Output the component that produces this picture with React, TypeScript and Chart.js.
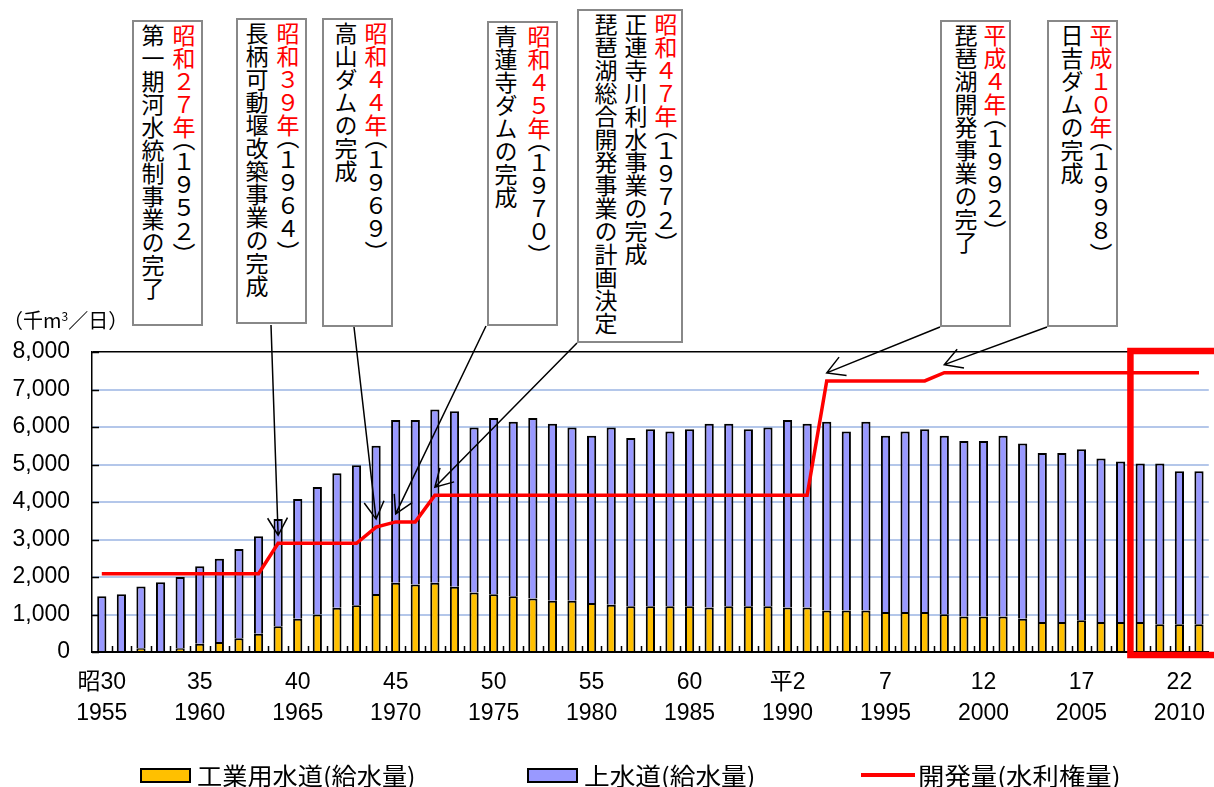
import React, { useEffect, useRef } from 'react';
import { Chart, registerables } from 'chart.js';

Chart.register(...registerables);

// ---------------- data ----------------
const YEARS = [
  '1955', '1956', '1957', '1958', '1959', '1960', '1961', '1962', '1963', '1964',
  '1965', '1966', '1967', '1968', '1969', '1970', '1971', '1972', '1973', '1974',
  '1975', '1976', '1977', '1978', '1979', '1980', '1981', '1982', '1983', '1984',
  '1985', '1986', '1987', '1988', '1989', '1990', '1991', '1992', '1993', '1994',
  '1995', '1996', '1997', '1998', '1999', '2000', '2001', '2002', '2003', '2004',
  '2005', '2006', '2007', '2008', '2009', '2010', '2011',
];

// 工業用水道(給水量) 千m3/日
const INDUSTRIAL = [
  0, 0, 100, 0, 100, 220, 270, 370, 490, 690,
  890, 1000, 1180, 1250, 1550, 1850, 1800, 1850, 1740, 1590,
  1540, 1490, 1430, 1370, 1370, 1310, 1260, 1220, 1220, 1220,
  1220, 1190, 1220, 1220, 1220, 1190, 1190, 1110, 1110, 1110,
  1070, 1070, 1070, 1010, 950, 950, 950, 890, 800, 800,
  850, 800, 800, 800, 740, 740, 740,
];

// 上水道(給水量) 千m3/日
const DOMESTIC = [
  1490, 1540, 1650, 1860, 1900, 2070, 2220, 2380, 2600, 2860,
  3190, 3400, 3590, 3730, 3950, 4340, 4390, 4620, 4680, 4400,
  4700, 4650, 4810, 4720, 4620, 4460, 4730, 4490, 4720, 4660,
  4720, 4900, 4870, 4720, 4770, 5000, 4900, 5030, 4770, 5030,
  4700, 4810, 4870, 4760, 4680, 4680, 4820, 4670, 4510, 4510,
  4560, 4360, 4280, 4230, 4290, 4080, 4080,
];

// 開発量(水利権量) 千m3/日
const DEVELOPMENT = [
  2090, 2090, 2090, 2090, 2090, 2090, 2090, 2090, 2090, 2900,
  2900, 2900, 2900, 2900, 3330, 3470, 3470, 4180, 4180, 4180,
  4180, 4180, 4180, 4180, 4180, 4180, 4180, 4180, 4180, 4180,
  4180, 4180, 4180, 4180, 4180, 4180, 4180, 7230, 7230, 7230,
  7230, 7230, 7230, 7450, 7450, 7450, 7450, 7450, 7450, 7450,
  7450, 7450, 7450, 7450, 7450, 7450, 7450,
];

const TICK_ERA = ['昭30', '35', '40', '45', '50', '55', '60', '平2', '7', '12', '17', '22'];
const TICK_YEAR = ['1955', '1960', '1965', '1970', '1975', '1980', '1985', '1990', '1995', '2000', '2005', '2010'];

const Y_MIN = 0;
const Y_MAX = 8000;
const Y_STEP = 1000;

const HIGHLIGHT_FROM = '2008';

const SERIES_LABELS = ['工業用水道(給水量)', '上水道(給水量)', '開発量(水利権量)'];
const UNIT_LABEL = ['（千m', '3', '／日）'];

// annotation notes: text + the year the arrow points at
const NOTE_ERA = ['昭和２７年', '昭和３９年', '昭和４４年', '昭和４５年', '昭和４７年', '平成４年', '平成１０年'];
const NOTE_WEST = ['１９５２', '１９６４', '１９６９', '１９７０', '１９７２', '１９９２', '１９９８'];
const NOTE_TEXT = [
  ['第一期河水統制事業の完了'],
  ['長柄可動堰改築事業の完成'],
  ['高山ダムの完成'],
  ['青蓮寺ダムの完成'],
  ['正連寺川利水事業の完成', '琵琶湖総合開発事業の計画決定'],
  ['琵琶湖開発事業の完了'],
  ['日吉ダムの完成'],
];
const NOTE_TARGET = [null, '1964', '1969', '1970', '1972', '1992', '1998'];

// ---------------- layout (positions / styles) ----------------
const W = 1214;
const H = 787;
const BOX_LAYOUT = [
  { left: 132, top: 20, width: 71, height: 306, lh: 31, pr: 2, ax: 0, ay: 0 },
  { left: 236, top: 18, width: 71, height: 306, lh: 31, pr: 2, ax: 271, ay: 325 },
  { left: 322, top: 18, width: 71, height: 309, lh: 30, pr: 0, ax: 354, ay: 327 },
  { left: 487, top: 21, width: 71, height: 305, lh: 33, pr: 1, ax: 486, ay: 326 },
  { left: 577, top: 9, width: 106, height: 334, lh: 30, pr: 0, ax: 577, ay: 343 },
  { left: 940, top: 20, width: 71, height: 307, lh: 29, pr: 0, ax: 940, ay: 327 },
  { left: 1047, top: 20, width: 71, height: 307, lh: 29, pr: 1, ax: 1047, ay: 327 },
];
const LEGEND_LAYOUT = [
  { sw: 140, swW: 51, tx: 197, kind: 'box', sx: 1.05 },
  { sw: 527, swW: 51, tx: 584, kind: 'box', sx: 1.07 },
  { sw: 861, swW: 54, tx: 918, kind: 'line', sx: 1.1 },
];

const TICK_FONT = "'Liberation Sans', 'Noto Sans CJK JP', sans-serif";
const JP_FONT = "'Noto Sans CJK JP', sans-serif";
const C_YELLOW = '#FFC000';
const C_BLUE = '#9999FF';
const C_RED = '#FF0000';
const C_GRID = '#b4c7ea';
const LEGEND_COLORS = [C_YELLOW, C_BLUE, C_RED];

const overlayPlugin = {
  id: 'overlay',
  afterDraw(chart: any) {
    const { ctx, chartArea, scales } = chart;
    const xs = scales.x;
    const ys = scales.y;
    const n = YEARS.length;
    const cw = (chartArea.right - chartArea.left) / n;
    ctx.save();

    // inner tick marks
    ctx.beginPath();
    ctx.strokeStyle = '#000';
    ctx.lineWidth = 1.5;
    for (let v = Y_MIN; v <= Y_MAX; v += Y_STEP) {
      const py = Math.round(ys.getPixelForValue(v)) + 0.5;
      ctx.moveTo(chartArea.left, py);
      ctx.lineTo(chartArea.left + 7, py);
    }
    for (let i = 1; i < n; i++) {
      const px = Math.round(xs.getPixelForValue(i) - cw / 2) + 0.5;
      ctx.moveTo(px, chartArea.bottom);
      ctx.lineTo(px, chartArea.bottom - 6);
    }
    ctx.stroke();

    // highlight rectangle
    const hi = YEARS.indexOf(HIGHLIGHT_FROM);
    const hx = xs.getPixelForValue(hi) - cw / 2;
    const hy1 = ys.getPixelForValue(Y_MAX) - 1;
    const hy2 = ys.getPixelForValue(Y_MIN) + 3;
    ctx.strokeStyle = C_RED;
    ctx.lineWidth = 6.5;
    ctx.strokeRect(hx, hy1, chart.width + 40 - hx, hy2 - hy1);

    // arrows
    ctx.strokeStyle = '#000';
    ctx.lineWidth = 1.5;
    NOTE_TARGET.forEach((yr, k) => {
      if (!yr) return;
      const idx = YEARS.indexOf(yr);
      const tx = xs.getPixelForValue(idx);
      const ty = ys.getPixelForValue(DEVELOPMENT[idx]) - 8;
      const sx = BOX_LAYOUT[k].ax;
      const sy = BOX_LAYOUT[k].ay;
      const ang = Math.atan2(ty - sy, tx - sx);
      const len = 20;
      const spread = 0.52;
      ctx.beginPath();
      ctx.moveTo(sx, sy);
      ctx.lineTo(tx, ty);
      ctx.moveTo(tx - len * Math.cos(ang - spread), ty - len * Math.sin(ang - spread));
      ctx.lineTo(tx, ty);
      ctx.lineTo(tx - len * Math.cos(ang + spread), ty - len * Math.sin(ang + spread));
      ctx.stroke();
    });
    ctx.restore();
  },
};

export default function App() {
  const canvasRef = useRef<HTMLCanvasElement | null>(null);

  useEffect(() => {
    if (!canvasRef.current) return;
    const chart = new Chart(canvasRef.current, {
      type: 'bar',
      data: {
        labels: YEARS,
        datasets: [
          {
            type: 'line',
            label: SERIES_LABELS[2],
            data: DEVELOPMENT,
            borderColor: C_RED,
            backgroundColor: C_RED,
            borderWidth: 3.5,
            pointRadius: 0,
            tension: 0,
            stack: 'dev',
            order: 0,
          } as any,
          {
            type: 'bar',
            label: SERIES_LABELS[0],
            data: INDUSTRIAL,
            backgroundColor: C_YELLOW,
            borderColor: '#000',
            borderWidth: 2,
            stack: 'water',
            order: 1,
            categoryPercentage: 1,
            barPercentage: 0.47,
          },
          {
            type: 'bar',
            label: SERIES_LABELS[1],
            data: DOMESTIC,
            backgroundColor: C_BLUE,
            borderColor: '#000',
            borderWidth: 2,
            stack: 'water',
            order: 1,
            categoryPercentage: 1,
            barPercentage: 0.47,
          },
        ],
      },
      options: {
        responsive: false,
        animation: false,
        devicePixelRatio: 1,
        layout: { padding: { left: 0, right: 1, top: 352, bottom: 55 } },
        plugins: {
          legend: { display: false },
          tooltip: { enabled: false },
        },
        scales: {
          x: {
            stacked: true,
            grid: { display: false, drawTicks: false },
            border: { display: true, color: '#000', width: 2 },
            ticks: {
              autoSkip: false,
              maxRotation: 0,
              minRotation: 0,
              padding: 15,
              color: '#000',
              font: { family: TICK_FONT, size: 23, lineHeight: 31 / 23 },
              callback: (_v: any, i: number) =>
                i % 5 === 0 && i / 5 < TICK_YEAR.length ? [TICK_ERA[i / 5], TICK_YEAR[i / 5]] : '',
            },
            afterFit: (s: any) => {
              s.height = 80;
            },
          },
          y: {
            stacked: true,
            min: Y_MIN,
            max: Y_MAX,
            ticks: {
              stepSize: Y_STEP,
              padding: 22,
              color: '#000',
              font: { family: TICK_FONT, size: 23 },
              callback: (v: any) => Number(v).toLocaleString('en-US'),
            },
            grid: {
              drawTicks: false,
              color: (c: any) =>
                c.tick && c.tick.value === Y_MAX ? '#000' : c.tick && c.tick.value === Y_MIN ? 'rgba(0,0,0,0)' : C_GRID,
              lineWidth: (c: any) => (c.tick && c.tick.value === Y_MAX ? 1.5 : 2),
            },
            border: { display: true, color: '#000', width: 1.5 },
            afterFit: (s: any) => {
              s.width = 92;
            },
          },
        },
      },
      plugins: [overlayPlugin],
    } as any);
    return () => chart.destroy();
  }, []);

  const halfParen: React.CSSProperties = { fontFeatureSettings: '"vhal" 1' };

  return (
    <div
      style={{
        position: 'fixed',
        left: 0,
        top: 0,
        width: W,
        height: H,
        overflow: 'hidden',
        background: '#fff',
      }}
    >
      <canvas
        ref={canvasRef}
        width={W}
        height={H}
        style={{ position: 'absolute', left: 0, top: 0, width: W, height: H }}
      />

      {NOTE_ERA.map((era, k) => {
        const b = BOX_LAYOUT[k];
        return (
          <div
            key={k}
            style={{
              position: 'absolute',
              left: b.left,
              top: b.top,
              width: b.width,
              height: b.height,
              boxSizing: 'border-box',
              border: '2px solid #888',
              background: '#fff',
              writingMode: 'vertical-rl',
              fontFamily: JP_FONT,
              fontSize: 23,
              lineHeight: `${b.lh}px`,
              paddingTop: 2,
              paddingRight: b.pr,
              color: '#000',
              whiteSpace: 'nowrap',
              overflow: 'hidden',
            }}
          >
            <span style={{ color: C_RED }}>{era}</span>
            <span style={halfParen}>（</span>
            {NOTE_WEST[k]}
            <span style={halfParen}>）</span>
            {NOTE_TEXT[k].map((t, j) => (
              <React.Fragment key={j}>
                <br />
                {t}
              </React.Fragment>
            ))}
          </div>
        );
      })}

      <div
        style={{
          position: 'absolute',
          left: 3,
          top: 310,
          fontFamily: JP_FONT,
          fontSize: 20,
          lineHeight: '20px',
          color: '#000',
          whiteSpace: 'nowrap',
        }}
      >
        {UNIT_LABEL[0]}
        <sup style={{ fontSize: 12, verticalAlign: 'top', lineHeight: '12px' }}>{UNIT_LABEL[1]}</sup>
        {UNIT_LABEL[2]}
      </div>

      {/* legend */}
      {LEGEND_LAYOUT.map((it, k) => (
        <React.Fragment key={k}>
          {it.kind === 'box' ? (
            <div
              style={{
                position: 'absolute',
                left: it.sw,
                top: 768,
                width: it.swW,
                height: 15,
                boxSizing: 'border-box',
                background: LEGEND_COLORS[k],
                border: '2px solid #000',
              }}
            />
          ) : (
            <div
              style={{
                position: 'absolute',
                left: it.sw,
                top: 773,
                width: it.swW,
                height: 4,
                background: LEGEND_COLORS[k],
              }}
            />
          )}
          <div
            style={{
              position: 'absolute',
              left: it.tx,
              top: 763,
              fontFamily: JP_FONT,
              fontSize: 24,
              lineHeight: '24px',
              color: '#000',
              whiteSpace: 'nowrap',
              transform: `scaleX(${it.sx})`,
              transformOrigin: 'left center',
            }}
          >
            {SERIES_LABELS[k]}
          </div>
        </React.Fragment>
      ))}
    </div>
  );
}
